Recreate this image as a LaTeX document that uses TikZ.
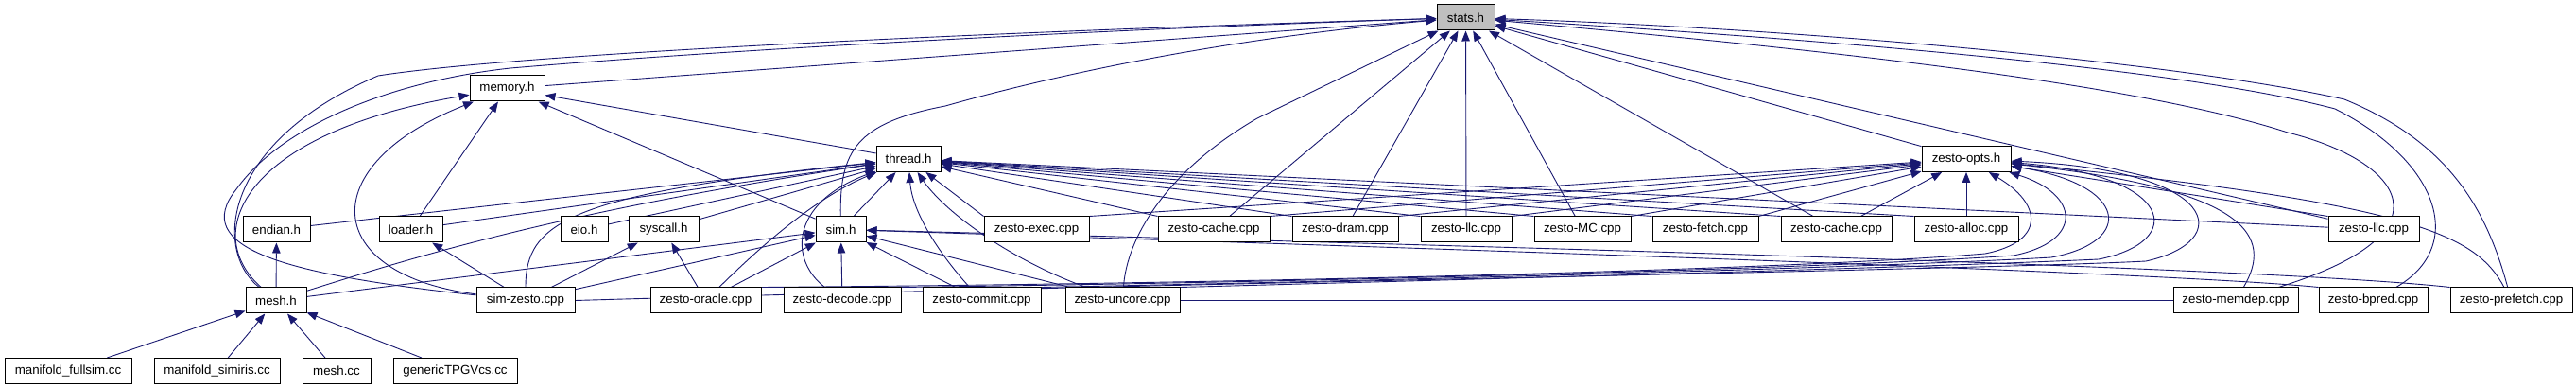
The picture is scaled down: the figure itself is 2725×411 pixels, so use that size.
\documentclass[tikz,border=0pt]{standalone}
\usepackage{fontspec}
\setmainfont{Liberation Sans}
\usetikzlibrary{arrows.meta, backgrounds}
\definecolor{edgeblue}{HTML}{191970}

\begin{document}
\begin{tikzpicture}[x=1pt, y=-1pt,
    box/.style={rectangle, draw=black, fill=white, line width=1pt, minimum width=#1pt,
                minimum height=27pt, inner sep=0pt, font=\fontsize{13.3}{16}\selectfont},
    link/.style={draw=edgeblue, line width=0.9pt},
    arrow/.style={link, -{Triangle[length=11pt, width=8.5pt]}}
]
    \useasboundingbox (0,0) rectangle (2725,411);

    % Headers on top
    \node[box=61, fill=black!25] (stats) at (1550.5,18.5) {stats.h};
    \node[box=79] (memory) at (536.5,93.5) {memory.h};
    \node[box=68] (thread) at (961,168) {thread.h};
    \node[box=94] (opts) at (2080,168) {zesto-opts.h};

    % Row 4
    \node[box=71] (endian) at (292.5,242.5) {endian.h};
    \node[box=67] (loader) at (434.5,242.5) {loader.h};
    \node[box=50] (eio) at (618,242.5) {eio.h};
    \node[box=74] (syscall) at (702,242.5) {syscall.h};
    \node[box=53] (sim) at (889.5,242.5) {sim.h};
    \node[box=111] (exec) at (1096.5,242.5) {zesto-exec.cpp};
    \node[box=118] (cacheA) at (1284,242.5) {zesto-cache.cpp};
    \node[box=112] (dram) at (1423,242.5) {zesto-dram.cpp};
    \node[box=96] (llcA) at (1551,242.5) {zesto-llc.cpp};
    \node[box=102] (mc) at (1674,242.5) {zesto-MC.cpp};
    \node[box=112] (fetch) at (1804,242.5) {zesto-fetch.cpp};
    \node[box=117] (cacheB) at (1942.5,242.5) {zesto-cache.cpp};
    \node[box=110] (alloc) at (2080,242.5) {zesto-alloc.cpp};
    \node[box=96] (llcB) at (2511,242.5) {zesto-llc.cpp};

    % Row 5
    \node[box=64] (mesh) at (292,317.5) {mesh.h};
    \node[box=104] (simzesto) at (556,317.5) {sim-zesto.cpp};
    \node[box=117] (oracle) at (746.5,317.5) {zesto-oracle.cpp};
    \node[box=124] (decode) at (891,317.5) {zesto-decode.cpp};
    \node[box=125] (commit) at (1038.5,317.5) {zesto-commit.cpp};
    \node[box=121] (uncore) at (1187.5,317.5) {zesto-uncore.cpp};
    \node[box=132] (memdep) at (2365,317.5) {zesto-memdep.cpp};
    \node[box=115] (bpred) at (2510.5,317.5) {zesto-bpred.cpp};
    \node[box=129] (prefetch) at (2656.5,317.5) {zesto-prefetch.cpp};

    % Row 6
    \node[box=134] (fullsim) at (72,392) {manifold\_fullsim.cc};
    \node[box=133] (simiris) at (229.5,392) {manifold\_simiris.cc};
    \node[box=72] (meshcc) at (356,392) {mesh.cc};
    \node[box=131] (generic) at (481.5,392) {genericTPGVcs.cc};

    \begin{scope}[on background layer]
    % into stats.h
    \draw[arrow] (memory) -- (stats);
    \draw[arrow] (mesh) .. controls (225,265) and (235,150) .. (400,80)
        .. controls (560,55) and (1100,32) .. (stats);
    \draw[arrow] (simzesto) .. controls (300,290) and (200,262) .. (250,200)
        .. controls (300,130) and (420,85) .. (540,72)
        .. controls (800,50) and (1200,30) .. (stats);
    \draw[arrow] (sim) .. controls (888,160) and (905,130) .. (1000,112)
        .. controls (1120,78) and (1300,40) .. (stats);
    \draw[arrow] (uncore) .. controls (1192,250) and (1235,180) .. (1330,125) -- (stats);
    \draw[arrow] (cacheA) -- (stats);
    \draw[arrow] (dram) -- (stats);
    \draw[arrow] (llcA) -- (stats);
    \draw[arrow] (mc) -- (stats);
    \draw[arrow] (cacheB) -- (stats);
    \draw[arrow] (opts) -- (stats);
    \draw[arrow] (llcB) -- (stats);
    \draw[arrow] (memdep) .. controls (2600,245) and (2540,170) .. (2420,140)
        .. controls (2250,85) and (1900,50) .. (stats);
    \draw[arrow] (bpred) .. controls (2610,260) and (2580,170) .. (2470,115)
        .. controls (2300,70) and (1900,40) .. (stats);
    \draw[arrow] (prefetch) .. controls (2630,220) and (2590,150) .. (2480,105)
        .. controls (2300,65) and (1900,30) .. (stats);

    % into memory.h
    \draw[arrow] (thread) -- (memory);
    \draw[arrow] (sim) -- (memory);
    \draw[arrow] (loader) -- (memory);
    \draw[arrow] (mesh) .. controls (210,245) and (260,140) .. (memory);
    \draw[arrow] (simzesto) .. controls (340,290) and (330,175) .. (memory);

    % into thread.h
    \draw[arrow] (endian) -- (thread);
    \draw[arrow] (loader) -- (thread);
    \draw[arrow] (eio) -- (thread);
    \draw[arrow] (syscall) -- (thread);
    \draw[arrow] (sim) -- (thread);
    \draw[arrow] (mesh) .. controls (450,268) and (600,222) .. (thread);
    \draw[arrow] (simzesto) .. controls (556,235) and (600,205) .. (thread);
    \draw[arrow] (oracle) .. controls (800,265) and (860,210) .. (thread);
    \draw[arrow] (decode) .. controls (835,275) and (835,215) .. (thread);
    \draw[arrow] (commit) .. controls (995,270) and (965,225) .. (thread);
    \draw[arrow] (uncore) .. controls (1070,275) and (1000,225) .. (thread);
    \foreach \n in {exec, cacheA, dram, llcA, mc, fetch, cacheB, alloc}
        \draw[arrow] (\n.north west) -- (thread);
    \draw[arrow] (llcB) -- (thread);

    % into zesto-opts.h
    \foreach \n in {exec, cacheA, dram, llcA, mc, fetch}
        \draw[arrow] (\n.north east) -- (opts);
    \draw[arrow] (cacheB) -- (opts);
    \draw[arrow] (alloc) -- (opts);
    \draw[arrow] (llcB.north west) -- (opts);
    \draw[arrow] (oracle.north east) .. controls (1300,300) and (1900,285) .. (2100,268)
        .. controls (2165,255) and (2160,215) .. (opts);
    \draw[arrow] (decode.north east) .. controls (1400,298) and (1950,283) .. (2130,270)
        .. controls (2205,255) and (2200,205) .. (opts);
    \draw[arrow] (commit.north east) .. controls (1500,296) and (2000,282) .. (2170,272)
        .. controls (2260,255) and (2250,195) .. (opts);
    \draw[arrow] (uncore.north east) .. controls (1600,294) and (2050,282) .. (2220,274)
        .. controls (2315,255) and (2300,185) .. (opts);
    \draw[arrow] (simzesto.east) .. controls (1200,300) and (2100,285) .. (2270,276)
        .. controls (2365,255) and (2350,180) .. (opts);
    \draw[arrow] (memdep) .. controls (2405,250) and (2380,200) .. (opts);
    \draw[arrow] (prefetch) .. controls (2620,250) and (2560,215) .. (opts);

    % into sim.h
    \draw[arrow] (mesh) -- (sim);
    \draw[arrow] (simzesto) -- (sim);
    \draw[arrow] (oracle) -- (sim);
    \draw[arrow] (decode) -- (sim);
    \draw[arrow] (commit) -- (sim);
    \draw[arrow] (uncore) -- (sim);
    \draw[arrow] (bpred.north west) .. controls (2300,288) and (1500,262) .. (sim);
    \draw[arrow] (prefetch.north west) .. controls (2400,282) and (1500,258) .. (sim);

    % smaller headers
    \draw[arrow] (simzesto) -- (loader);
    \draw[arrow] (simzesto) -- (syscall);
    \draw[arrow] (oracle) -- (syscall);
    \draw[arrow] (mesh) -- (endian);
    \draw[link] (uncore) -- (memdep);

    % mesh.h users
    \foreach \n in {fullsim, simiris, meshcc, generic}
        \draw[arrow] (\n) -- (mesh);
    \end{scope}
\end{tikzpicture}
\end{document}
